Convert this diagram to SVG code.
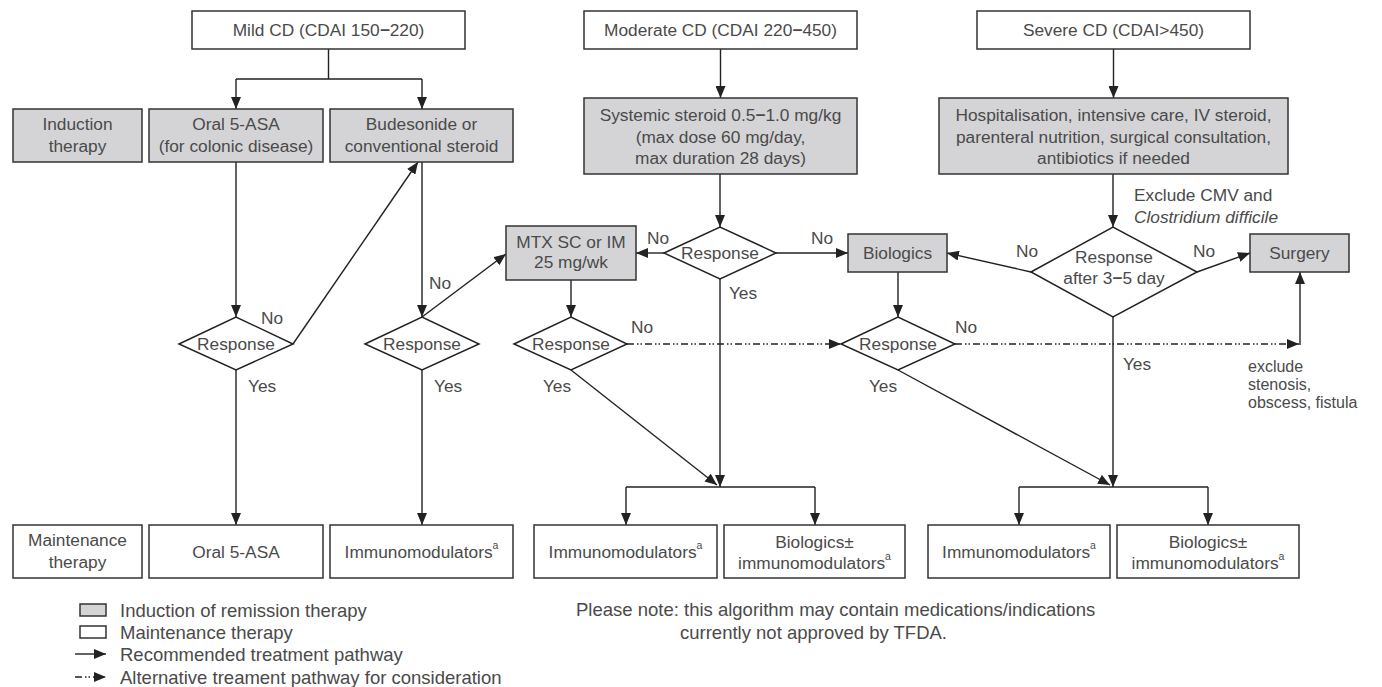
<svg xmlns="http://www.w3.org/2000/svg" width="1382" height="687" viewBox="0 0 1382 687">
<style>
text{font-family:"Liberation Sans",Arial,sans-serif;font-size:17.3px;fill:#4a4a4a;}
.c{text-anchor:middle;}
.big{font-size:18.5px;}
.sm{font-size:16px;}
.box{fill:#fff;stroke:#333;stroke-width:1.5;}
.ind{fill:#d4d4d6;stroke:#333;stroke-width:1.5;}
.dia{fill:#fff;stroke:#222;stroke-width:1.5;}
.ln{fill:none;stroke:#222;stroke-width:1.4;}
.arr{fill:none;stroke:#222;stroke-width:1.4;marker-end:url(#ah);}
.alt{fill:none;stroke:#222;stroke-width:1.4;stroke-dasharray:7 3 1.5 2 1.5 3;marker-end:url(#ah);}
.sup{font-size:10.5px;}
</style>
<defs>
<marker id="ah" markerUnits="userSpaceOnUse" markerWidth="12" markerHeight="10" viewBox="0 0 12 10" refX="12" refY="5" orient="auto">
<path d="M0,0 L12,5 L0,10 Z" fill="#222"/>
</marker>
</defs>
<rect width="1382" height="687" fill="#fff"/>

<g id="connectors">
<path class="ln" d="M328.5,49 V79 M236,79 H422"/>
<path class="arr" d="M236,79 V109"/>
<path class="arr" d="M422,79 V109"/>
<path class="arr" d="M236,162 V317"/>
<path class="arr" d="M422,162 V317"/>
<path class="arr" d="M293,344 L418,162"/>
<path class="arr" d="M422,317 L506,254"/>
<path class="arr" d="M236,370 V525"/>
<path class="arr" d="M422,370 V525"/>
<path class="arr" d="M720.5,49 V98"/>
<path class="arr" d="M720,174 V227"/>
<path class="arr" d="M664,253 H636"/>
<path class="arr" d="M776,253 H848"/>
<path class="arr" d="M720,279 V487"/>
<path class="arr" d="M571,280 V317"/>
<path class="alt" d="M627,344 H841"/>
<path class="arr" d="M571,370 L717,485"/>
<path class="ln" d="M626,487 H815"/>
<path class="arr" d="M626,487 V525"/>
<path class="arr" d="M815,487 V525"/>
<path class="arr" d="M1113.5,49 V98"/>
<path class="arr" d="M1113,174 V227"/>
<path class="arr" d="M1031,272 L947,253"/>
<path class="arr" d="M1197,272 L1250,253"/>
<path class="arr" d="M1113,317 V487"/>
<path class="arr" d="M898,272 V317"/>
<path class="alt" d="M955,344 H1299"/>
<path class="arr" d="M1300,345 V272"/>
<path class="arr" d="M898,370 L1110,485"/>
<path class="ln" d="M1019,487 H1208"/>
<path class="arr" d="M1019,487 V525"/>
<path class="arr" d="M1208,487 V525"/>
</g>

<g id="labels">
<text class="c" x="272" y="324">No</text>
<text x="248" y="392">Yes</text>
<text x="429" y="289">No</text>
<text x="434" y="392">Yes</text>
<text class="c" x="658" y="244">No</text>
<text class="c" x="822" y="244">No</text>
<text class="c" x="743" y="299">Yes</text>
<text class="c" x="642" y="333">No</text>
<text class="c" x="557" y="392">Yes</text>
<text class="c" x="966" y="333">No</text>
<text class="c" x="883" y="392">Yes</text>
<text class="c" x="1027" y="257">No</text>
<text class="c" x="1204" y="257">No</text>
<text class="c" x="1137" y="370">Yes</text>
<text x="1134" y="201">Exclude CMV and</text>
<text x="1134" y="223" font-style="italic">Clostridium difficile</text>
<text class="sm" x="1248" y="372">exclude</text>
<text class="sm" x="1248" y="390">stenosis,</text>
<text class="sm" x="1248" y="408">obscess, fistula</text>
</g>

<g id="mild"><rect class="box" x="192" y="11" width="273" height="38"/><text class="c" x="328.5" y="36">Mild CD (CDAI 150<tspan font-weight="bold">−</tspan>220)</text></g>
<g id="moderate"><rect class="box" x="584" y="11" width="273" height="38"/><text class="c" x="720.5" y="36">Moderate CD (CDAI 220<tspan font-weight="bold">−</tspan>450)</text></g>
<g id="severe"><rect class="box" x="977" y="11" width="273" height="38"/><text class="c" x="1113.5" y="36">Severe CD (CDAI&gt;450)</text></g>

<g id="induction-label"><rect class="ind" x="13" y="109" width="129" height="53"/><text class="c" x="77.5" y="130">Induction</text><text class="c" x="77.5" y="152">therapy</text></g>
<g id="oral-asa-ind"><rect class="ind" x="149" y="109" width="174" height="53"/><text class="c" x="236" y="130">Oral 5-ASA</text><text class="c" x="236" y="152">(for colonic disease)</text></g>
<g id="budesonide"><rect class="ind" x="330" y="109" width="183" height="53"/><text class="c" x="421.5" y="130">Budesonide or</text><text class="c" x="421.5" y="152">conventional steroid</text></g>
<g id="systemic"><rect class="ind" x="584" y="98" width="273" height="76"/><text class="c" x="720.5" y="121">Systemic steroid 0.5<tspan font-weight="bold">−</tspan>1.0 mg/kg</text><text class="c" x="720.5" y="143">(max dose 60 mg/day,</text><text class="c" x="720.5" y="164">max duration 28 days)</text></g>
<g id="hosp"><rect class="ind" x="939" y="98" width="349" height="76"/><text class="c" x="1113.5" y="121">Hospitalisation, intensive care, IV steroid,</text><text class="c" x="1113.5" y="143">parenteral nutrition, surgical consultation,</text><text class="c" x="1113.5" y="164">antibiotics if needed</text></g>
<g id="mtx"><rect class="ind" x="506" y="226" width="130" height="54"/><text class="c" x="571" y="248">MTX SC or IM</text><text class="c" x="571" y="268">25 mg/wk</text></g>
<g id="biologics"><rect class="ind" x="848" y="234" width="99" height="38"/><text class="c" x="897.5" y="259">Biologics</text></g>
<g id="surgery"><rect class="ind" x="1250" y="234" width="99" height="38"/><text class="c" x="1299.5" y="259">Surgery</text></g>

<g id="d1"><polygon class="dia" points="179,344 236,317 293,344 236,370"/><text class="c" x="236" y="350">Response</text></g>
<g id="d2"><polygon class="dia" points="365,344 422,317 479,344 422,370"/><text class="c" x="422" y="350">Response</text></g>
<g id="d3"><polygon class="dia" points="514,344 571,317 627,344 571,370"/><text class="c" x="571" y="350">Response</text></g>
<g id="d4"><polygon class="dia" points="841,344 898,317 955,344 898,370"/><text class="c" x="898" y="350">Response</text></g>
<g id="dm"><polygon class="dia" points="664,253 720,227 776,253 720,279"/><text class="c" x="720" y="259">Response</text></g>
<g id="ds"><polygon class="dia" points="1031,272 1113,227 1197,272 1113,317"/><text class="c" x="1114" y="263">Response</text><text class="c" x="1114" y="284">after 3<tspan font-weight="bold">−</tspan>5 day</text></g>

<g id="maint-label"><rect class="box" x="13" y="525" width="129" height="53"/><text class="c" x="77.5" y="546">Maintenance</text><text class="c" x="77.5" y="568">therapy</text></g>
<g id="oral-asa-m"><rect class="box" x="149" y="525" width="174" height="53"/><text class="c" x="236" y="557.5">Oral 5-ASA</text></g>
<g id="immuno1"><rect class="box" x="330" y="525" width="183" height="53"/><text class="c" x="421.5" y="557.5">Immunomodulators<tspan class="sup" dy="-9">a</tspan></text></g>
<g id="immuno2"><rect class="box" x="534" y="525" width="183" height="53"/><text class="c" x="625.5" y="557.5">Immunomodulators<tspan class="sup" dy="-9">a</tspan></text></g>
<g id="bio-immuno2"><rect class="box" x="724" y="525" width="181" height="53"/><text class="c" x="814.5" y="548">Biologics±</text><text class="c" x="814.5" y="569">immunomodulators<tspan class="sup" dy="-9">a</tspan></text></g>
<g id="immuno3"><rect class="box" x="928" y="525" width="182" height="53"/><text class="c" x="1019" y="557.5">Immunomodulators<tspan class="sup" dy="-9">a</tspan></text></g>
<g id="bio-immuno3"><rect class="box" x="1117" y="525" width="182" height="53"/><text class="c" x="1208" y="548">Biologics±</text><text class="c" x="1208" y="569">immunomodulators<tspan class="sup" dy="-9">a</tspan></text></g>

<g id="legend">
<rect class="ind" x="80" y="604" width="26" height="12"/>
<rect class="box" x="80" y="626" width="26" height="12"/>
<path class="arr" d="M75,654 H106"/>
<path class="alt" d="M75,677 H106" stroke-dasharray="4 2 1.5 1.5 1.5 2"/>
<text class="big" x="120" y="616.5">Induction of remission therapy</text>
<text class="big" x="120" y="638.5">Maintenance therapy</text>
<text class="big" x="120" y="660.5">Recommended treatment pathway</text>
<text class="big" x="120" y="683.5">Alternative treament pathway for consideration</text>
</g>
<g id="note">
<text class="big" x="576" y="615.5">Please note: this algorithm may contain medications/indications</text>
<text class="big" x="680" y="638.5">currently not approved by TFDA.</text>
</g>
</svg>
